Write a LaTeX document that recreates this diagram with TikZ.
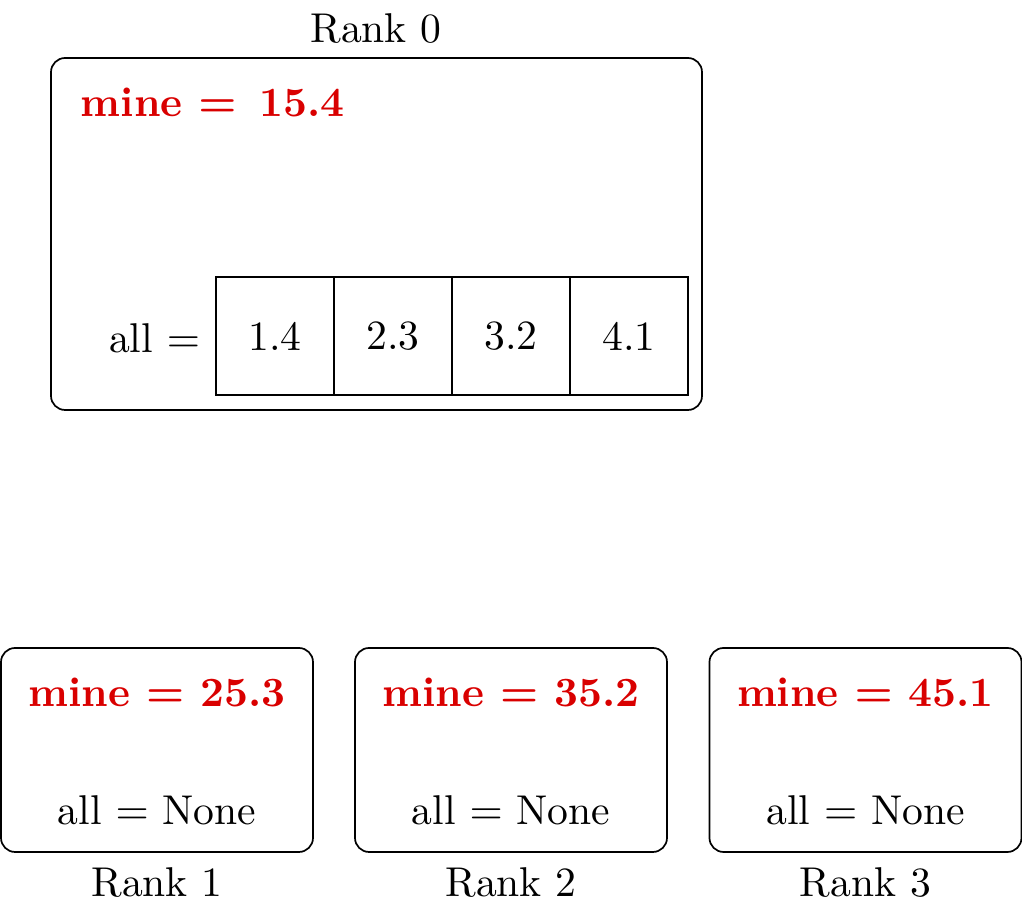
\documentclass[tikz,border=0pt]{standalone}
\usepackage{xcolor}
\newcommand\pxu{0.2342pt}
\colorlet{minered}{red!85!black}
\begin{document}
\fontsize{9.75pt}{11.7pt}\selectfont
\begin{tikzpicture}[x=0.2342pt,y=-0.2342pt,
  rankbox/.style={draw,rounded corners=3.3pt,inner sep=0pt,line width=0.4pt},
  cell/.style={draw,inner sep=0pt,minimum width=118*\pxu,minimum height=118*\pxu},
  minetxt/.style={text=minered,font=\bfseries\boldmath,inner sep=0pt},
  plaintxt/.style={inner sep=0pt}]
\useasboundingbox (0,0) rectangle (1022,910);
% Rank 0
\node[rankbox,minimum width=651*\pxu,minimum height=352*\pxu] (box0) at (376.5,234) {};
\node[plaintxt] (r0) at (376,29) {Rank 0};
\node[minetxt,anchor=west] (m0) at (80,102.5) {mine $=$\hspace{0.55em}15.4};
\node[cell] (c1) at (275,336) {};
\node[cell] (c2) at (393,336) {};
\node[cell] (c3) at (511,336) {};
\node[cell] (c4) at (629,336) {};
\node[plaintxt] (v1) at (c1) {1.4};
\node[plaintxt] (v2) at (c2) {2.3};
\node[plaintxt] (v3) at (c3) {3.2};
\node[plaintxt] (v4) at (c4) {4.1};
\node[plaintxt,anchor=east] (a0) at (201,338) {all $=$};
% Rank 1..3
\foreach \i/\x/\v in {1/157/25.3,2/511/35.2,3/865.5/45.1}{
  \node[rankbox,minimum width=312*\pxu,minimum height=204*\pxu] (box\i) at (\x,750) {};
  \node[minetxt] (m\i) at (\x,692) {mine $=$ \v};
  \node[plaintxt] (a\i) at (\x,810) {all $=$ None};
  \node[plaintxt] (r\i) at (\x,883) {Rank \i};
}
\end{tikzpicture}
\end{document}
